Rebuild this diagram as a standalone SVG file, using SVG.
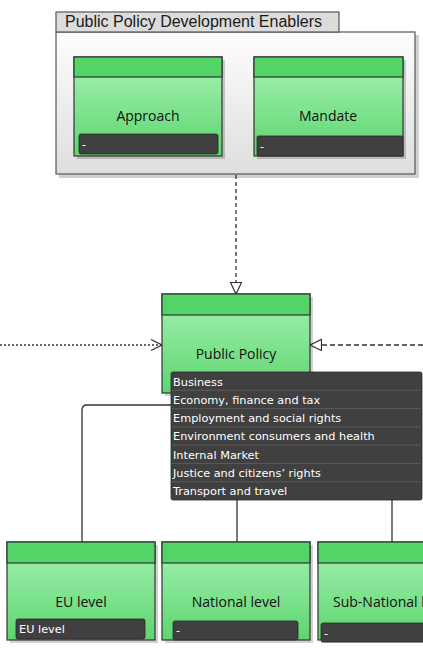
<svg xmlns="http://www.w3.org/2000/svg" width="423" height="649" viewBox="0 0 423 649">
<style>
.hdr{fill:#52d467;stroke:#333;stroke-width:1.2}
.body{fill:url(#g);stroke:#333;stroke-width:1.2}
.shadow{fill:#000;opacity:0.18}
.lbl{fill:#404040;stroke:#2a2a2a;stroke-width:0.8}
.name{font-family:"Open Sans","Noto Sans",sans-serif;font-size:14px;font-weight:500;fill:#111;text-anchor:middle}
.lt{font-family:"DejaVu Sans","Liberation Sans",sans-serif;font-size:11.3px;fill:#fff}
.conn{fill:none;stroke:#333;stroke-width:1.3}
</style>
<defs>
<linearGradient id="g" x1="0" y1="0" x2="0" y2="1">
<stop offset="0" stop-color="#a6f2b4"/>
<stop offset="1" stop-color="#5dd56f"/>
</linearGradient>
<linearGradient id="cg" x1="0" y1="0" x2="0" y2="1">
<stop offset="0" stop-color="#fdfdfd"/>
<stop offset="1" stop-color="#dedede"/>
</linearGradient>
<marker id="tri" markerWidth="14" markerHeight="14" refX="12" refY="6" orient="auto" markerUnits="userSpaceOnUse">
<path d="M0.5,0.5 L12,6 L0.5,11.5 Z" fill="#fff" stroke="#333" stroke-width="1.2"/>
</marker>
<marker id="open" markerWidth="14" markerHeight="14" refX="12" refY="6" orient="auto" markerUnits="userSpaceOnUse">
<path d="M1,0.5 L12,6 L1,11.5" fill="none" stroke="#333" stroke-width="1.3"/>
</marker>
</defs>
<rect width="423" height="649" fill="#fff"/>

<g id="connectors">
<line class="conn" x1="236" y1="175" x2="236" y2="294" stroke-dasharray="4,3" marker-end="url(#tri)"/>
<line class="conn" x1="0" y1="345" x2="162" y2="345" stroke-dasharray="2,2" marker-end="url(#open)"/>
<line class="conn" x1="423" y1="345" x2="310" y2="345" stroke-dasharray="5,3" marker-end="url(#tri)"/>
<path class="conn" d="M82,542 V410 Q82,405 87,405 H171"/>
<line class="conn" x1="237" y1="500" x2="237" y2="542"/>
<line class="conn" x1="392" y1="500" x2="392" y2="542"/>
</g>

<g id="container">
<rect class="shadow" x="59" y="35" width="360" height="143"/>
<rect x="56" y="32" width="359" height="142" fill="url(#cg)" stroke="#555" stroke-width="1.2"/>
<rect x="56" y="12" width="283" height="20" fill="#dcdcdc" stroke="#555" stroke-width="1.2"/>
<text x="65" y="27" font-family="Liberation Sans,Arial,sans-serif" font-size="16" fill="#1a1a1a">Public Policy Development Enablers</text>
</g>

<g id="approach">
<rect class="shadow" x="77" y="60" width="148" height="99"/>
<rect class="body" x="74" y="57" width="148" height="99"/>
<rect class="hdr" x="74" y="57" width="148" height="20"/>
<text class="name" x="148" y="121">Approach</text>
<rect class="lbl" x="79" y="134" width="139" height="20" rx="2"/>
<text class="lt" x="82" y="148">-</text>
</g>

<g id="mandate">
<rect class="shadow" x="257" y="60" width="149" height="99"/>
<rect class="body" x="254" y="57" width="149" height="99"/>
<rect class="hdr" x="254" y="57" width="149" height="20"/>
<text class="name" x="328" y="121">Mandate</text>
<rect class="lbl" x="257" y="136" width="146" height="20" rx="1"/>
<text class="lt" x="260" y="150">-</text>
</g>

<g id="public-policy">
<rect class="shadow" x="165" y="297" width="148" height="99"/>
<rect class="body" x="162" y="294" width="148" height="99"/>
<rect class="hdr" x="162" y="294" width="148" height="21"/>
<text class="name" x="236" y="359">Public Policy</text>
<rect x="171" y="372" width="251" height="128" rx="2" fill="#404040" stroke="#2a2a2a" stroke-width="0.8"/>
<g stroke="#5a5a5a" stroke-width="1">
<line x1="172" y1="390.3" x2="421" y2="390.3"/>
<line x1="172" y1="408.6" x2="421" y2="408.6"/>
<line x1="172" y1="426.9" x2="421" y2="426.9"/>
<line x1="172" y1="445.1" x2="421" y2="445.1"/>
<line x1="172" y1="463.4" x2="421" y2="463.4"/>
<line x1="172" y1="481.7" x2="421" y2="481.7"/>
</g>
<text class="lt" x="173" y="385.5">Business</text>
<text class="lt" x="173" y="403.8">Economy, finance and tax</text>
<text class="lt" x="173" y="422.1">Employment and social rights</text>
<text class="lt" x="173" y="440.4">Environment consumers and health</text>
<text class="lt" x="173" y="458.6">Internal Market</text>
<text class="lt" x="173" y="476.9">Justice and citizens’ rights</text>
<text class="lt" x="173" y="495.2">Transport and travel</text>
</g>

<g id="eu-level">
<rect class="shadow" x="10" y="545" width="148" height="98"/>
<rect class="body" x="7" y="542" width="148" height="98"/>
<rect class="hdr" x="7" y="542" width="148" height="21"/>
<text class="name" x="81" y="607">EU level</text>
<rect class="lbl" x="16" y="619" width="129" height="20" rx="2"/>
<text class="lt" x="19" y="633">EU level</text>
</g>

<g id="national-level">
<rect class="shadow" x="165" y="545" width="148" height="98"/>
<rect class="body" x="162" y="542" width="148" height="98"/>
<rect class="hdr" x="162" y="542" width="148" height="21"/>
<text class="name" x="236" y="607">National level</text>
<rect class="lbl" x="173" y="621" width="125" height="19" rx="2"/>
<text class="lt" x="176" y="634">-</text>
</g>

<g id="sub-national-level">
<rect class="shadow" x="321" y="545" width="148" height="98"/>
<rect class="body" x="318" y="542" width="148" height="98"/>
<rect class="hdr" x="318" y="542" width="148" height="21"/>
<text class="name" x="392" y="607">Sub-National level</text>
<rect class="lbl" x="321" y="623" width="145" height="19" rx="2"/>
<text class="lt" x="324" y="637">-</text>
</g>
</svg>
